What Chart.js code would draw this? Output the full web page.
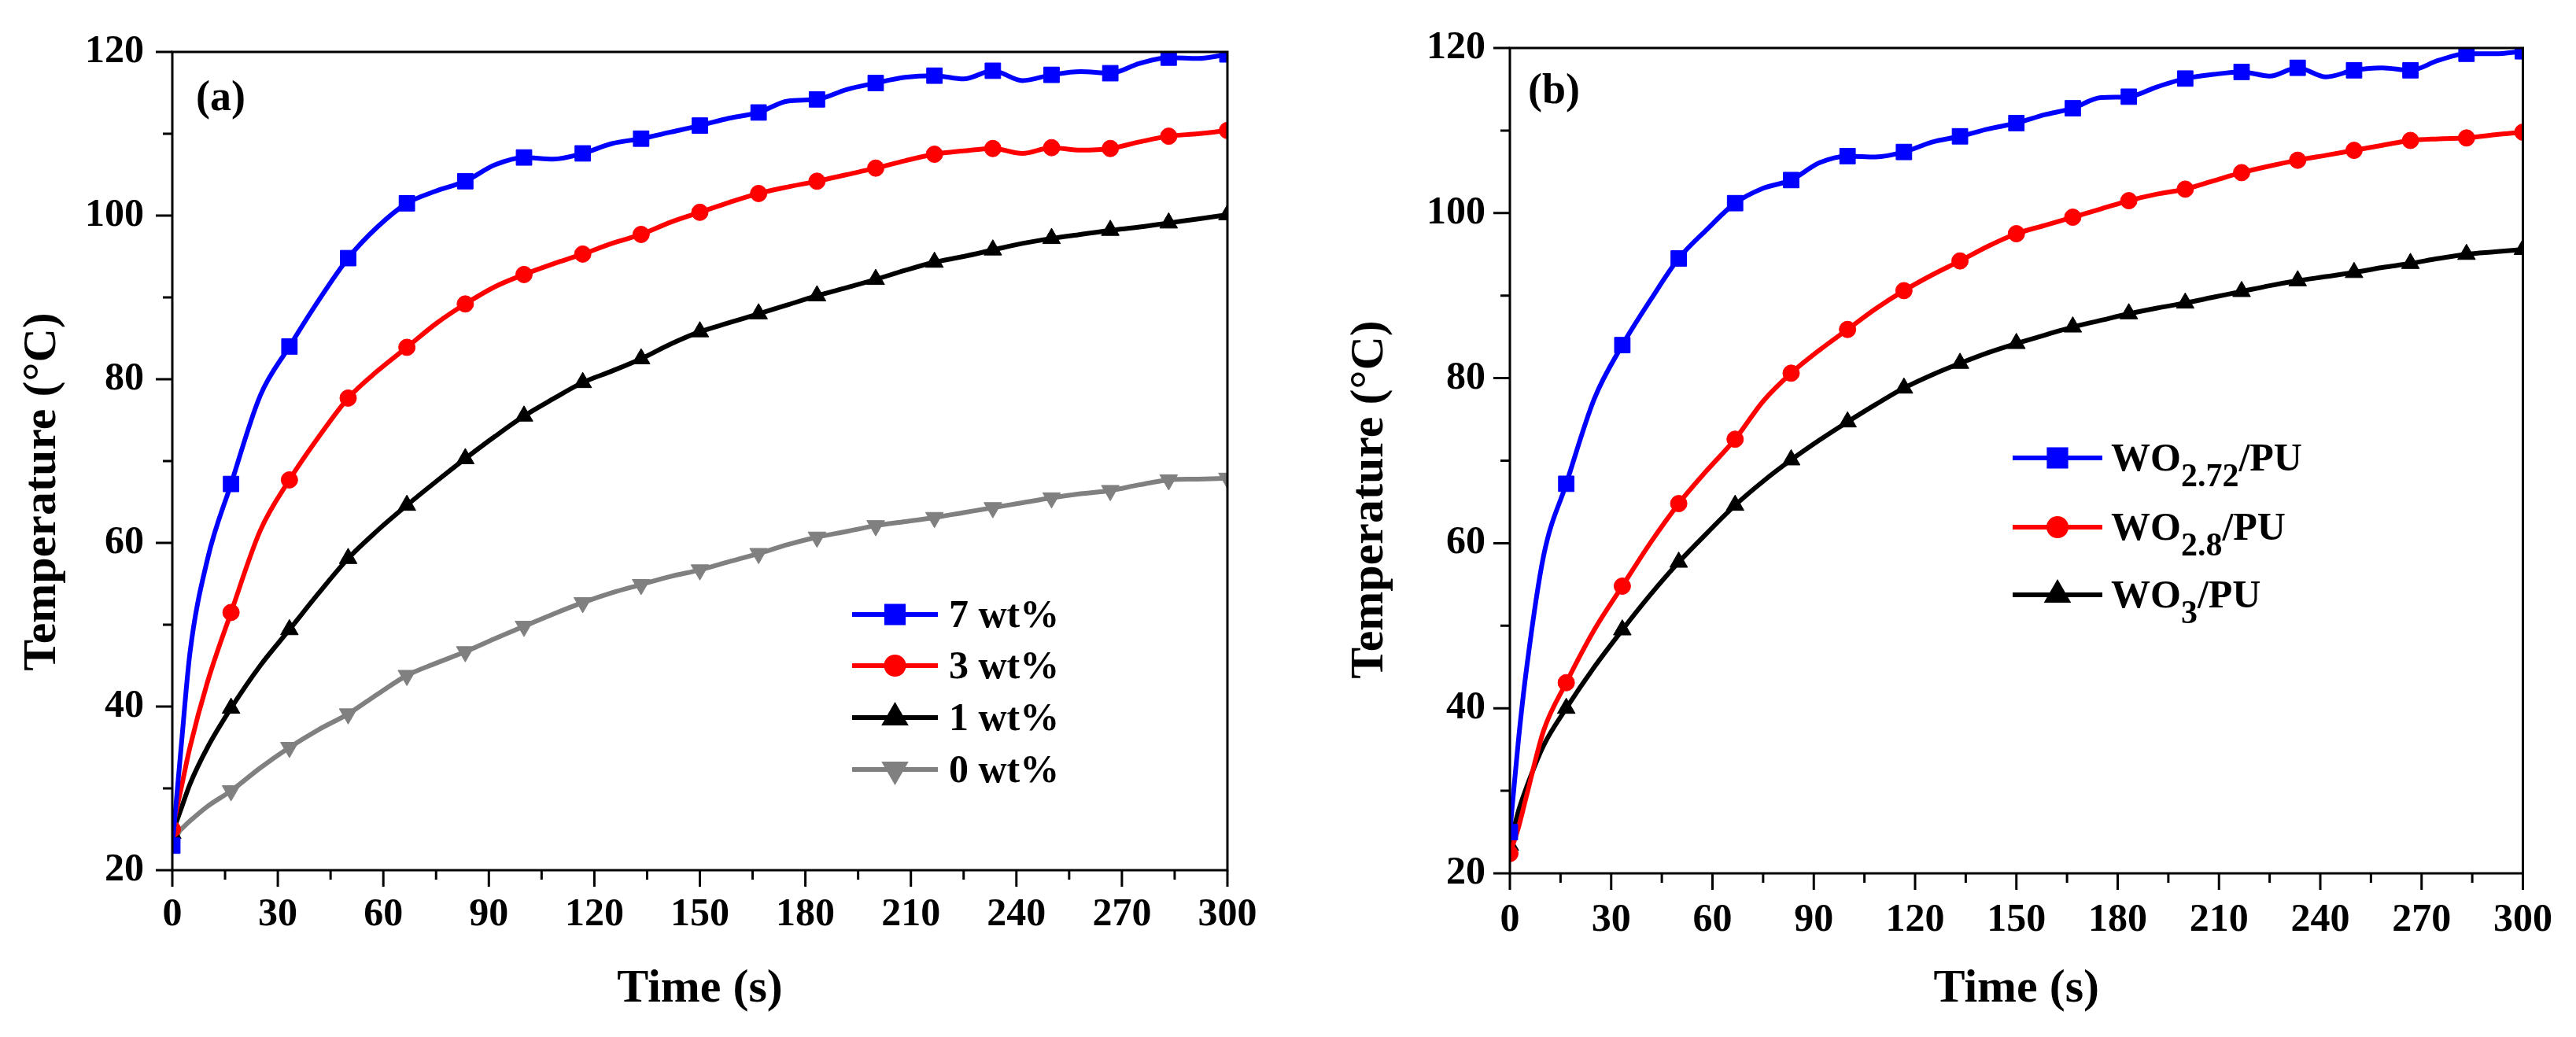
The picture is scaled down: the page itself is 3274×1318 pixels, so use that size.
<!DOCTYPE html>
<html>
<head>
<meta charset="utf-8">
<title>Temperature vs time</title>
<script src="https://cdn.jsdelivr.net/npm/chart.js@4.4.1/dist/chart.umd.min.js"></script>
<style>
  html, body { margin: 0; padding: 0; background: #fff; }
  #wrap { position: relative; width: 3274px; height: 1318px; }
  canvas { position: absolute; top: 0; }
  #chartA { left: 0; }
  #chartB { left: 1637px; }
</style>
</head>
<body>
<div id="wrap">
  <canvas id="chartA" width="1637" height="1318"></canvas>
  <canvas id="chartB" width="1637" height="1318"></canvas>
</div>
<script>
// time axis (s), shared by every curve
const times = [0, 2.5, 5, 10, 16.7, 25, 33.3, 41.7, 50, 58.3, 66.7, 75, 83.3, 91.7, 100,
  108.3, 116.7, 125, 133.3, 141.7, 150, 158.3, 166.7, 175, 183.3, 191.7, 200, 208.3,
  216.7, 225, 233.3, 241.7, 250, 258.3, 266.7, 275, 283.3, 291.7, 300];

// panel (a): loading of WO2.72
const labelsA = ['7 wt%', '3 wt%', '1 wt%', '0 wt%'];
const temp7wt = [23, 35, 46.5, 58, 67.2, 78, 84, 89.7, 94.8, 98.6, 101.5, 103.0, 104.2, 106.2, 107.1,
  106.9, 107.6, 108.8, 109.4, 110.2, 111.0, 111.9, 112.6, 114.0, 114.2, 115.4, 116.2, 116.9,
  117.1, 116.7, 117.7, 116.5, 117.2, 117.6, 117.4, 118.6, 119.3, 119.2, 119.7];
const temp3wt = [25, 30, 35, 43, 51.5, 61.5, 67.7, 73.0, 77.7, 81.0, 83.9, 86.8, 89.2, 91.3, 92.8,
  94.1, 95.3, 96.6, 97.7, 99.2, 100.4, 101.6, 102.7, 103.5, 104.2, 105.0, 105.8, 106.7,
  107.5, 107.9, 108.2, 107.6, 108.3, 108.0, 108.2, 109.0, 109.7, 110.0, 110.4];
const temp1wt = [24.5, 27.5, 30.5, 35, 39.8, 45, 49.4, 53.9, 58.1, 61.5, 64.6, 67.5, 70.3, 73.0, 75.5,
  77.6, 79.6, 81.0, 82.5, 84.3, 85.8, 86.9, 88.0, 89.1, 90.2, 91.2, 92.2, 93.3,
  94.3, 95.0, 95.8, 96.6, 97.2, 97.7, 98.2, 98.6, 99.1, 99.6, 100.1];
const temp0wt = [24, 25, 26, 27.8, 29.7, 32.5, 35.0, 37.2, 39.1, 41.5, 43.8, 45.3, 46.7, 48.3, 49.8,
  51.3, 52.7, 53.9, 54.9, 55.9, 56.7, 57.7, 58.7, 59.8, 60.7, 61.4, 62.1, 62.6,
  63.1, 63.7, 64.3, 64.9, 65.5, 66.0, 66.4, 67.1, 67.7, 67.8, 67.9];

// panel (b): oxide type, _{..} marks a subscript
const labelsB = ['WO_{2.72}/PU', 'WO_{2.8}/PU', 'WO_{3}/PU'];
const tempWO272 = [25, 36, 45, 58.5, 67.2, 77.5, 84.0, 89.5, 94.5, 98.0, 101.2, 103.0, 104.0, 106.1, 106.9,
  106.8, 107.4, 108.6, 109.3, 110.2, 110.9, 111.9, 112.7, 114.0, 114.1, 115.3, 116.3, 116.8,
  117.1, 116.6, 117.6, 116.5, 117.3, 117.6, 117.3, 118.5, 119.3, 119.3, 119.6];
const tempWO28 = [22.4, 25.5, 29.5, 37.3, 43.1, 49.5, 54.8, 60.1, 64.8, 68.8, 72.6, 77.2, 80.6, 83.4, 85.9,
  88.4, 90.6, 92.5, 94.2, 96.0, 97.5, 98.5, 99.5, 100.5, 101.5, 102.3, 102.9, 103.9,
  104.9, 105.7, 106.4, 107.0, 107.6, 108.2, 108.8, 109.0, 109.1, 109.5, 109.8];
const tempWO3 = [23.4, 27.5, 30.5, 35.5, 40.0, 45.0, 49.5, 53.8, 57.7, 61.2, 64.6, 67.5, 70.1, 72.5, 74.7,
  76.8, 78.8, 80.4, 81.8, 83.1, 84.2, 85.2, 86.2, 87.0, 87.8, 88.5, 89.1, 89.8,
  90.5, 91.2, 91.8, 92.3, 92.8, 93.4, 93.9, 94.5, 95.0, 95.3, 95.6];

const yTicks = [20, 40, 60, 80, 100, 120];
const xTicks = [0, 30, 60, 90, 120, 150, 180, 210, 240, 270, 300];

const FONT = '"Liberation Serif", "Times New Roman", serif';
Chart.defaults.font.family = FONT;
Chart.defaults.color = '#000';

// markers are only drawn every 50/3 s, like the original plot
const isMarker = (t) => Math.abs(t * 3 / 50 - Math.round(t * 3 / 50)) < 0.03;

function series(label, values, color, style, radius, rotation) {
  return {
    label: label,
    data: times.map((t, i) => ({ x: t, y: values[i] })),
    borderColor: color,
    backgroundColor: color,
    borderWidth: 6,
    cubicInterpolationMode: 'monotone',
    pointStyle: style,
    pointRotation: rotation || 0,
    pointBorderColor: color,
    pointBackgroundColor: color,
    pointBorderWidth: 1,
    pointRadius: (ctx) => isMarker(times[ctx.dataIndex]) ? radius : 0,
    pointHoverRadius: 0
  };
}

function splitSub(text) {
  return text.split(/_\{([^}]*)\}/).map((s, i) => ({ s: s, sub: i % 2 === 1 }));
}

// frame, ticks, y title, panel letter and legend
const panelDecor = {
  id: 'panelDecor',
  afterDraw(chart, args, o) {
    const { ctx, chartArea: a, scales: { x, y } } = chart;
    ctx.save();
    ctx.strokeStyle = '#000';
    ctx.lineWidth = 3;
    ctx.strokeRect(a.left, a.top, a.right - a.left, a.bottom - a.top);

    ctx.beginPath();
    x.ticks.forEach((t, i) => {
      const px = x.getPixelForValue(t.value);
      ctx.moveTo(px, a.bottom); ctx.lineTo(px, a.bottom + 21);
      if (i < x.ticks.length - 1) {
        const mx = x.getPixelForValue((t.value + x.ticks[i + 1].value) / 2);
        ctx.moveTo(mx, a.bottom); ctx.lineTo(mx, a.bottom + 12);
      }
    });
    y.ticks.forEach((t, i) => {
      const py = y.getPixelForValue(t.value);
      ctx.moveTo(a.left, py); ctx.lineTo(a.left - 21, py);
      if (i < y.ticks.length - 1) {
        const my = y.getPixelForValue((t.value + y.ticks[i + 1].value) / 2);
        ctx.moveTo(a.left, my); ctx.lineTo(a.left - 12, my);
      }
    });
    ctx.stroke();

    ctx.fillStyle = '#000';
    // y axis title
    ctx.save();
    ctx.translate(o.yTitleX, o.yTitleY);
    ctx.rotate(-Math.PI / 2);
    ctx.font = 'bold 60px ' + FONT;
    ctx.textAlign = 'center';
    ctx.textBaseline = 'alphabetic';
    ctx.fillText('Temperature (\u00B0C)', 0, 0);
    ctx.restore();

    // panel letter
    ctx.font = 'bold 54px ' + FONT;
    ctx.textAlign = 'left';
    ctx.textBaseline = 'alphabetic';
    ctx.fillText(o.letter, o.letterX, o.letterY);

    // legend
    const lg = o.legend;
    chart.data.datasets.forEach((ds, i) => {
      const ly = lg.rows[i];
      ctx.strokeStyle = ds.borderColor;
      ctx.lineWidth = 6;
      ctx.beginPath();
      ctx.moveTo(lg.x1, ly); ctx.lineTo(lg.x2, ly);
      ctx.stroke();
      ctx.fillStyle = ds.pointBackgroundColor;
      Chart.helpers.drawPoint(ctx, {
        pointStyle: ds.pointStyle, radius: lg.radius[i], rotation: ds.pointRotation, borderWidth: 1
      }, (lg.x1 + lg.x2) / 2, ly);
      ctx.fill();

      ctx.fillStyle = '#000';
      let tx = lg.textX;
      const base = ly + 16;
      splitSub(ds.label).forEach((p) => {
        if (!p.s) return;
        ctx.font = 'bold ' + (p.sub ? 42 : 50) + 'px ' + FONT;
        ctx.fillText(p.s, tx, p.sub ? base + 20 : base);
        tx += ctx.measureText(p.s).width;
      });
    });
    ctx.restore();
  }
};

function makeChart(id, datasets, lay) {
  return new Chart(document.getElementById(id), {
    type: 'line',
    data: { datasets: datasets },
    plugins: [panelDecor],
    options: {
      responsive: false,
      animation: false,
      devicePixelRatio: 1,
      events: [],
      layout: { padding: { left: 0, right: lay.right, top: lay.top, bottom: 0 } },
      plugins: {
        legend: { display: false },
        tooltip: { enabled: false },
        panelDecor: lay.decor
      },
      scales: {
        x: {
          type: 'linear',
          min: xTicks[0],
          max: xTicks[xTicks.length - 1],
          afterBuildTicks: (s) => { s.ticks = xTicks.map((v) => ({ value: v })); },
          ticks: { padding: lay.xPad, maxRotation: 0, autoSkip: false, font: { size: 50, weight: 'bold' } },
          grid: { display: false, drawTicks: false },
          border: { display: false },
          title: {
            display: true,
            text: 'Time (s)',
            font: { size: 60, weight: 'bold' },
            padding: { top: 0, bottom: 25 }
          },
          afterFit: (s) => { s.height = lay.xHeight; }
        },
        y: {
          type: 'linear',
          min: yTicks[0],
          max: yTicks[yTicks.length - 1],
          afterBuildTicks: (s) => { s.ticks = yTicks.map((v) => ({ value: v })); },
          ticks: { padding: lay.yPad, font: { size: 50, weight: 'bold' } },
          grid: { display: false, drawTicks: false },
          border: { display: false },
          afterFit: (s) => { s.width = lay.yWidth; }
        }
      }
    }
  });
}

makeChart('chartA', [
  series(labelsA[0], temp7wt, '#0000ff', 'rect', 14),
  series(labelsA[1], temp3wt, '#ff0000', 'circle', 10.5),
  series(labelsA[2], temp1wt, '#000000', 'triangle', 13),
  series(labelsA[3], temp0wt, '#808080', 'triangle', 13, 180)
], {
  right: 77, top: 63, xHeight: 212, yWidth: 219, xPad: 27, yPad: 36,
  decor: {
    yTitleX: 70, yTitleY: 625, letter: '(a)', letterX: 249, letterY: 140,
    legend: { x1: 1083, x2: 1192, textX: 1206, rows: [781, 846, 912, 978], radius: [15, 11, 14, 14] }
  }
});

makeChart('chartB', [
  series(labelsB[0], tempWO272, '#0000ff', 'rect', 14),
  series(labelsB[1], tempWO28, '#ff0000', 'circle', 10.5),
  series(labelsB[2], tempWO3, '#000000', 'triangle', 13)
], {
  right: 64, top: 58, xHeight: 208, yWidth: 282, xPad: 30, yPad: 31,
  decor: {
    yTitleX: 120, yTitleY: 635, letter: '(b)', letterX: 305, letterY: 131,
    legend: { x1: 921, x2: 1035, textX: 1046, rows: [582, 670, 756], radius: [15, 11, 14] }
  }
});
</script>
</body>
</html>
